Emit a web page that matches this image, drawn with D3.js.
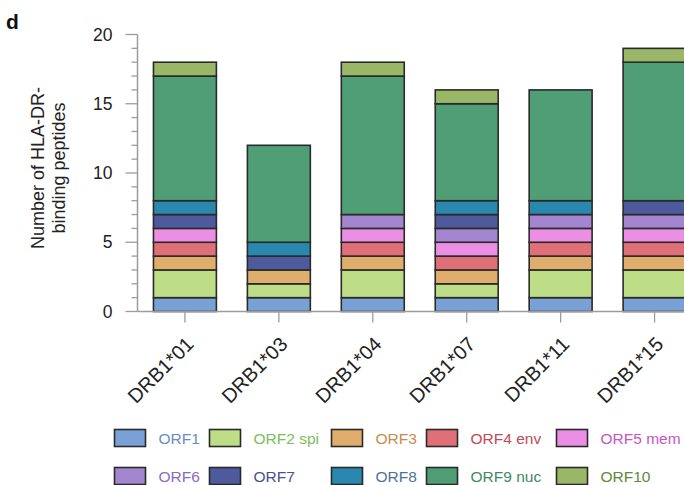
<!DOCTYPE html>
<html>
<head>
<meta charset="utf-8">
<script src="https://cdn.jsdelivr.net/npm/d3@7/dist/d3.min.js"></script>
<style>
  html, body { margin: 0; padding: 0; background: #fff; }
  svg { display: block; font-family: "Liberation Sans", Arial, Helvetica, sans-serif; }
</style>
</head>
<body>
<svg id="chart" width="684" height="485"></svg>
<script>
// HLA-DR alleles on the x axis
const alleles = ["DRB1*01", "DRB1*03", "DRB1*04", "DRB1*07", "DRB1*11", "DRB1*15"];

// SARS-CoV-2 ORFs (stack order, bottom to top)
const orfs = ["ORF1", "ORF2 spi", "ORF3", "ORF4 env", "ORF5 mem", "ORF6", "ORF7", "ORF8", "ORF9 nuc", "ORF10"];

// Number of binding peptides per ORF, one value per allele
const orf1  = [1, 1, 1, 1, 1, 1];
const orf2  = [2, 1, 2, 1, 2, 2];
const orf3  = [1, 1, 1, 1, 1, 1];
const orf4  = [1, 0, 1, 1, 1, 1];
const orf5  = [1, 0, 1, 1, 1, 1];
const orf6  = [0, 0, 1, 1, 1, 1];
const orf7  = [1, 1, 0, 1, 0, 1];
const orf8  = [1, 1, 0, 1, 1, 0];
const orf9  = [9, 7, 10, 7, 8, 10];
const orf10 = [1, 0, 1, 1, 0, 1];

const yTicks = [0, 5, 10, 15, 20];

const fillColors = ["#7aa1d5", "#bddd86", "#dfae6d", "#df7077", "#ea8fe4",
                    "#a386cf", "#4d5a9b", "#2a87ad", "#4f9e76", "#9ab667"];
const textColors = ["#6b8cc0", "#7cbd5c", "#c48c52", "#c04a55", "#c656c2",
                    "#8b6cc0", "#46508e", "#4f7299", "#3f8a62", "#5e8a3c"];

const seriesValues = [orf1, orf2, orf3, orf4, orf5, orf6, orf7, orf8, orf9, orf10];

// Long table built for d3.stack
const table = alleles.map((a, i) => {
  const row = { allele: a };
  orfs.forEach((o, k) => { row[o] = seriesValues[k][i]; });
  return row;
});

const svg = d3.select("#chart");

const x = d3.scaleBand()
  .domain(alleles)
  .range([137.5, 702])
  .paddingInner(0.33)
  .paddingOuter(0.17);

const y = d3.scaleLinear()
  .domain([0, 20])
  .range([311.5, 34.5]);

const stacked = d3.stack().keys(orfs)(table);

const axisColor = "#9c9c9c";

// Stacked bars
const layers = svg.append("g")
  .selectAll("g")
  .data(stacked)
  .join("g")
  .attr("fill", (d, i) => fillColors[i]);

layers.selectAll("rect")
  .data(d => d.filter(s => s[1] > s[0]))
  .join("rect")
  .attr("x", d => x(d.data.allele))
  .attr("width", x.bandwidth())
  .attr("y", d => y(d[1]))
  .attr("height", d => y(d[0]) - y(d[1]))
  .attr("stroke", "#2a2a2a")
  .attr("stroke-width", 1.6);

// Y axis: minor ticks at every unit, major ticks labelled
const yAxisG = svg.append("g").attr("transform", "translate(137.5,0)");
yAxisG.append("line")
  .attr("y1", y(20)).attr("y2", y(0))
  .attr("stroke", axisColor).attr("stroke-width", 1.5);
yAxisG.selectAll("line.minor")
  .data(d3.range(0, 21))
  .join("line")
  .attr("class", "minor")
  .attr("x1", d => yTicks.includes(d) ? -12 : -6)
  .attr("x2", 0)
  .attr("y1", d => y(d)).attr("y2", d => y(d))
  .attr("stroke", axisColor).attr("stroke-width", 1.3);
yAxisG.selectAll("text")
  .data(yTicks)
  .join("text")
  .attr("x", -25)
  .attr("y", d => y(d))
  .attr("dy", "0.35em")
  .attr("text-anchor", "end")
  .attr("font-size", 17.5)
  .attr("fill", "#222")
  .text(d => d);

// X axis
const xAxisG = svg.append("g").attr("transform", `translate(0,${y(0)})`);
xAxisG.append("line")
  .attr("x1", 137.5).attr("x2", 684)
  .attr("stroke", axisColor).attr("stroke-width", 1.5);
xAxisG.selectAll("line.tick")
  .data(alleles)
  .join("line")
  .attr("class", "tick")
  .attr("x1", d => x(d) + x.bandwidth() / 2)
  .attr("x2", d => x(d) + x.bandwidth() / 2)
  .attr("y1", 0).attr("y2", 11)
  .attr("stroke", axisColor).attr("stroke-width", 1.3);
xAxisG.selectAll("text")
  .data(alleles)
  .join("text")
  .attr("text-anchor", "end")
  .attr("font-size", 20)
  .attr("fill", "#222")
  .attr("transform", d => `translate(${x(d) + x.bandwidth() / 2 + 10},${34}) rotate(-45)`)
  .text(d => d);

// Axis title
svg.append("text")
  .attr("transform", "translate(44,168) rotate(-90)")
  .attr("text-anchor", "middle")
  .attr("font-size", 18)
  .attr("fill", "#222")
  .selectAll("tspan")
  .data(["Number of HLA-DR-", "binding peptides"])
  .join("tspan")
  .attr("x", 0)
  .attr("dy", (d, i) => i === 0 ? 0 : 21)
  .text(d => d);

// Panel letter
svg.append("text")
  .attr("x", 6).attr("y", 29)
  .attr("font-size", 21)
  .attr("font-weight", "bold")
  .attr("fill", "#111")
  .text("d");

// Legend: two rows of five
const colX = [114.5, 209.5, 331.5, 426.5, 556.5];
const rowY = [429.5, 467.5];
const legend = svg.append("g")
  .selectAll("g")
  .data(orfs)
  .join("g")
  .attr("transform", (d, i) => `translate(${colX[i % 5]},${rowY[Math.floor(i / 5)]})`);
legend.append("rect")
  .attr("width", 31).attr("height", 17)
  .attr("fill", (d, i) => fillColors[i])
  .attr("stroke", "#2a2a2a").attr("stroke-width", 1.6);
legend.append("text")
  .attr("x", 44).attr("y", 9)
  .attr("dy", "0.35em")
  .attr("font-size", 15.5)
  .attr("fill", (d, i) => textColors[i])
  .text(d => d);
</script>
</body>
</html>
